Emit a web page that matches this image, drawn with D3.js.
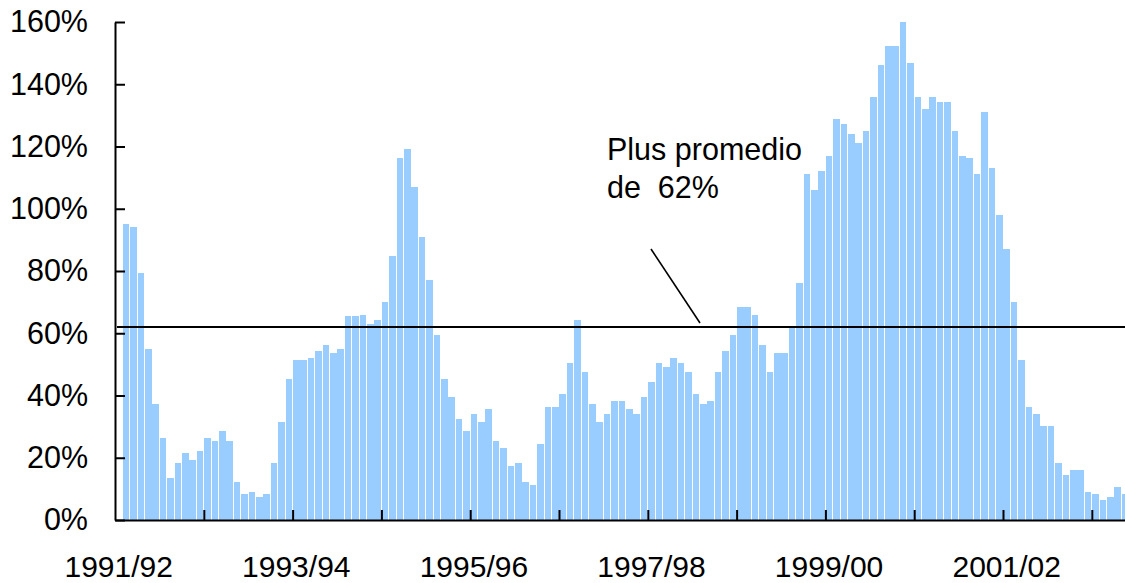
<!DOCTYPE html>
<html>
<head>
<meta charset="utf-8">
<script src="https://cdn.jsdelivr.net/npm/d3@7"></script>
<style>
  html, body { margin: 0; padding: 0; background: #fff; }
  svg { display: block; }
  text { font-family: "Liberation Sans", Arial, sans-serif; fill: #000; }
</style>
</head>
<body>
<svg id="chart" width="1125" height="583"></svg>
<script>
// ---- Data ----
const fiscalYears = ["1991/92","1992/93","1993/94","1994/95","1995/96","1996/97",
                     "1997/98","1998/99","1999/00","2000/01","2001/02","2002/03"];
const monthNames = ["Jul","Aug","Sep","Oct","Nov","Dec","Jan","Feb","Mar","Apr","May","Jun"];
const xTickLabels = ["1991/92","1993/94","1995/96","1997/98","1999/00","2001/02"];
const yTickValues = [0,20,40,60,80,100,120,140,160];
const averageValue = 62;
const annotationLines = ["Plus promedio", "de  62%"];

// monthly values (%), first month has no bar
const values = [
  null,
  95.2, 94.2, 79.5, 55.1, 37.2, 26.3, 13.5, 18.3, 21.5, 19.2, 22.1,
  26.3, 25.3, 28.5, 25.3, 12.2, 8.3, 9.0, 7.4, 8.3, 18.3, 31.4, 45.2,
  51.3, 51.3, 52.2, 54.2, 56.1, 53.5, 55.1, 65.4, 65.4, 66.0, 63.1, 64.4,
  70.2, 84.9, 116.3, 119.2, 107.1, 91.0, 77.2, 59.3, 45.2, 39.4, 32.4, 28.5,
  34.0, 31.4, 35.6, 25.3, 23.1, 17.3, 18.3, 12.2, 11.2, 24.4, 36.2, 36.2,
  40.4, 50.3, 64.4, 47.4, 37.2, 31.4, 34.0, 38.1, 38.1, 35.6, 34.0, 39.4,
  44.2, 50.3, 49.0, 52.2, 50.3, 47.4, 40.4, 37.2, 38.1, 47.4, 54.2, 59.3,
  68.3, 68.3, 66.0, 56.1, 47.4, 53.5, 53.5, 62.2, 76.3, 111.2, 106.1, 112.2,
  117.0, 128.8, 127.2, 124.0, 121.2, 125.0, 135.9, 146.2, 152.2, 152.2, 159.9, 146.8,
  135.9, 132.1, 135.9, 134.3, 134.3, 125.0, 117.0, 116.3, 111.2, 131.1, 113.1, 98.1,
  87.2, 70.2, 51.3, 36.2, 34.0, 30.1, 30.1, 18.3, 14.4, 16.0, 16.0, 9.0,
  8.3, 6.4, 7.4, 10.6, 8.3
];

// categories: fiscal-year months, as many as values
const categories = [];
fiscalYears.forEach(fy => monthNames.forEach(m => categories.push(fy + " " + m)));
const rows = values.map((v, i) => ({ cat: categories[i], value: v }));

// ---- Layout ----
const svg = d3.select("#chart");
const plotLeft = 115, plotBottom = 520, plotTop = 22;
const step = 7.4;
const plotRight = plotLeft + rows.length * step;

const x = d3.scaleBand()
  .domain(rows.map(d => d.cat))
  .range([plotLeft, plotRight])
  .paddingInner(0.13)
  .paddingOuter(0.065);

const xIdx = d3.scaleLinear().domain([0, rows.length]).range([plotLeft, plotRight]);

const y = d3.scaleLinear().domain([0, 160]).range([plotBottom, plotTop]);

// bars
svg.append("g")
  .attr("shape-rendering", "crispEdges")
  .selectAll("rect")
  .data(rows.filter(d => d.value != null))
  .join("rect")
  .attr("x", d => x(d.cat))
  .attr("width", x.bandwidth())
  .attr("y", d => y(d.value))
  .attr("height", d => y(0) - y(d.value))
  .attr("fill", "#99CCFF");

// y axis
const yAxis = d3.axisLeft(y)
  .tickValues(yTickValues)
  .tickSize(-10)
  .tickSizeOuter(0)
  .tickPadding(27)
  .tickFormat(d => d + "%");
const gy = svg.append("g").attr("transform", `translate(${plotLeft},0)`).call(yAxis);
gy.select(".domain").attr("stroke", "#000").attr("stroke-width", 2);
gy.selectAll(".tick line").attr("stroke", "#000").attr("stroke-width", 2);
gy.selectAll(".tick text")
  .style("font-family", '"Liberation Sans", Arial, sans-serif')
  .style("font-size", "30.5px");

// x axis: ticks at year boundaries
const yearTicks = d3.range(12, rows.length, 12);
const xAxis = d3.axisBottom(xIdx)
  .tickValues(yearTicks)
  .tickSize(-10)
  .tickSizeOuter(0)
  .tickFormat("");
const gx = svg.append("g").attr("transform", `translate(0,${plotBottom})`).call(xAxis);
gx.select(".domain").attr("stroke", "#000").attr("stroke-width", 2);
gx.selectAll(".tick line").attr("stroke", "#000").attr("stroke-width", 2);

// x labels centred on first month of every second fiscal year
svg.append("g")
  .selectAll("text")
  .data(xTickLabels)
  .join("text")
  .attr("x", (d, i) => x(categories[i * 24]) + x.bandwidth() / 2)
  .attr("y", 577)
  .attr("text-anchor", "middle")
  .style("font-size", "30px")
  .text(d => d);

// average line
svg.append("line")
  .attr("x1", plotLeft + 2).attr("x2", 1125)
  .attr("y1", y(averageValue)).attr("y2", y(averageValue))
  .attr("stroke", "#000").attr("stroke-width", 2);

// annotation
const ann = svg.append("text")
  .attr("x", 607).attr("y", 160)
  .style("font-size", "30.5px")
  .attr("xml:space", "preserve")
  .style("white-space", "pre");
ann.selectAll("tspan")
  .data(annotationLines)
  .join("tspan")
  .attr("x", 607)
  .attr("dy", (d, i) => i === 0 ? 0 : 38)
  .text(d => d);

svg.append("line")
  .attr("x1", 651).attr("y1", 249)
  .attr("x2", 700).attr("y2", y(averageValue) - 4)
  .attr("stroke", "#000").attr("stroke-width", 1.6);
</script>
</body>
</html>
